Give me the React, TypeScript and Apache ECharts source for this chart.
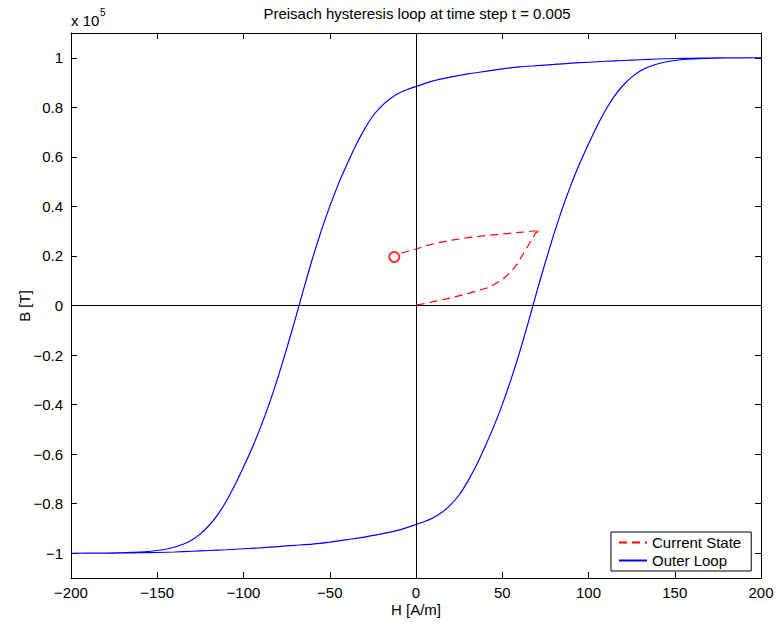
import React, { useEffect, useRef } from "react";
import * as echarts from "echarts";

const titleText = "Preisach hysteresis loop at time step t = 0.005";
const xTicks = [-200, -150, -100, -50, 0, 50, 100, 150, 200];
const yTicks = [-1, -0.8, -0.6, -0.4, -0.2, 0, 0.2, 0.4, 0.6, 0.8, 1];

// Outer loop, descending branch (H from 200 down to -200)
const descH = [200, 180, 170, 160, 150, 140, 130, 120, 110, 100, 90, 80, 70, 60, 50, 40, 30, 20, 10, 0, -5, -10, -15, -20, -25, -30, -35, -40, -45, -50, -55, -60, -65, -70, -75, -80, -85, -90, -95, -100, -105, -110, -115, -120, -125, -130, -135, -142, -150, -160, -180, -200];
const descB = [1.0, 1.0, 0.999, 0.998, 0.997, 0.995, 0.992, 0.989, 0.986, 0.982, 0.978, 0.973, 0.968, 0.963, 0.955, 0.945, 0.935, 0.922, 0.907, 0.884, 0.872, 0.857, 0.835, 0.805, 0.765, 0.71, 0.645, 0.57, 0.49, 0.4, 0.3, 0.19, 0.07, -0.055, -0.175, -0.29, -0.395, -0.49, -0.575, -0.652, -0.725, -0.79, -0.845, -0.888, -0.922, -0.947, -0.964, -0.979, -0.989, -0.995, -0.999, -1.0];

// Outer loop, ascending branch (H from -200 up to 200)
const ascH = [-200, -180, -170, -160, -150, -140, -130, -120, -110, -100, -90, -80, -70, -60, -50, -40, -30, -20, -10, 0, 5, 10, 15, 20, 25, 30, 35, 40, 45, 50, 55, 60, 65, 70, 75, 80, 85, 90, 95, 100, 105, 110, 115, 120, 125, 130, 135, 142, 150, 160, 180, 200];
const ascB = [-1.0, -1.0, -0.999, -0.998, -0.997, -0.995, -0.992, -0.989, -0.986, -0.982, -0.978, -0.973, -0.968, -0.963, -0.955, -0.945, -0.935, -0.922, -0.907, -0.884, -0.872, -0.857, -0.835, -0.805, -0.765, -0.71, -0.645, -0.57, -0.49, -0.4, -0.3, -0.19, -0.07, 0.055, 0.175, 0.29, 0.395, 0.49, 0.575, 0.652, 0.725, 0.79, 0.845, 0.888, 0.922, 0.947, 0.964, 0.979, 0.989, 0.995, 0.999, 1.0];

// Current state path
const curH = [0.4, 6, 12, 20, 31, 43, 50.6, 55, 58.4, 64.2, 69.4, 72, 60, 50.6, 40, 31.3, 20, 12, 5, 0.4, -4, -8.3, -12.6];
const curB = [0.002, 0.009, 0.019, 0.03, 0.05, 0.075, 0.108, 0.135, 0.165, 0.232, 0.293, 0.303, 0.295, 0.289, 0.282, 0.275, 0.263, 0.252, 0.24, 0.228, 0.22, 0.212, 0.196];

const currentPoint = [-12.6, 0.196];

const FONT = "Liberation Sans, Arial, Helvetica, sans-serif";
const FS = 15;

const fmt = (v: number) => String(Math.round(v * 1000) / 1000).replace("-", "\u2212");

export default function App() {
  const ref = useRef<HTMLDivElement>(null);
  useEffect(() => {
    if (!ref.current) return;
    const chart = echarts.init(ref.current, undefined, { renderer: "svg" });
    const outer: number[][] = [];
    descH.forEach((h, i) => outer.push([h, descB[i]]));
    ascH.forEach((h, i) => outer.push([h, ascB[i]]));
    const cur = curH.map((h, i) => [h, curB[i]]);

    const axisBase = {
      type: "value" as const,
      axisLine: { show: true, onZero: false, lineStyle: { color: "#000", width: 1 } },
      splitLine: { show: false },
    };

    chart.setOption({
      animation: false,
      backgroundColor: "#fff",
      textStyle: { fontFamily: FONT },
      grid: { left: 71, right: 17, top: 33, bottom: 47, containLabel: false },
      xAxis: [
        {
          ...axisBase,
          position: "bottom",
          min: xTicks[0],
          max: xTicks[xTicks.length - 1],
          interval: 50,
          axisTick: { show: true, inside: true, length: 6, lineStyle: { color: "#000" } },
          axisLabel: { show: true, color: "#000", fontSize: FS, margin: 7, fontFamily: FONT, formatter: (v: number) => fmt(v) },
        },
        {
          ...axisBase,
          position: "top",
          min: xTicks[0],
          max: xTicks[xTicks.length - 1],
          interval: 50,
          axisTick: { show: true, inside: true, length: 6, lineStyle: { color: "#000" } },
          axisLabel: { show: false },
        },
      ],
      yAxis: [
        {
          ...axisBase,
          position: "left",
          min: -1.1,
          max: 1.1,
          axisTick: { show: true, inside: true, length: 6, customValues: yTicks, lineStyle: { color: "#000" } },
          axisLabel: { show: true, color: "#000", fontSize: FS, margin: 8, fontFamily: FONT, customValues: yTicks, formatter: (v: number) => fmt(v) },
        },
        {
          ...axisBase,
          position: "right",
          min: -1.1,
          max: 1.1,
          axisTick: { show: true, inside: true, length: 6, customValues: yTicks, lineStyle: { color: "#000" } },
          axisLabel: { show: false, customValues: yTicks },
        },
      ],
      legend: {
        data: ["Current State", "Outer Loop"],
        orient: "vertical",
        left: 611,
        top: 532,
        width: 142,
        itemWidth: 28,
        itemHeight: 14,
        itemGap: 3,
        padding: [3, 10, 3, 7],
        backgroundColor: "#fff",
        borderColor: "#000",
        borderWidth: 1,
        borderRadius: 0,
        itemStyle: { opacity: 0 },
        textStyle: { color: "#000", fontSize: FS, fontFamily: FONT },
        selectedMode: false,
      },
      graphic: [
        {
          type: "text",
          x: 417,
          y: 6,
          style: { text: titleText, fill: "#000", font: `${FS}px ${FONT}`, align: "center" },
        },
        {
          type: "text",
          x: 71,
          y: 13,
          style: { text: "x 10", fill: "#000", font: `${FS}px ${FONT}` },
        },
        {
          type: "text",
          x: 100,
          y: 7,
          style: { text: "5", fill: "#000", font: `10px ${FONT}` },
        },
        {
          type: "text",
          x: 24,
          y: 306,
          rotation: Math.PI / 2,
          style: { text: "B [T]", fill: "#000", font: `${FS}px ${FONT}`, align: "center", verticalAlign: "middle" },
        },
        {
          type: "text",
          x: 416,
          y: 609,
          style: { text: "H [A/m]", fill: "#000", font: `${FS}px ${FONT}`, align: "center", verticalAlign: "middle" },
        },
      ],
      series: [
        {
          name: "Outer Loop",
          type: "line",
          data: outer,
          symbol: "none",
          smooth: 0.2,
          lineStyle: { color: "#0000ff", width: 1.2 },
          itemStyle: { color: "#0000ff" },
          z: 2,
          markLine: {
            silent: true,
            symbol: "none",
            label: { show: false },
            lineStyle: { color: "#000", width: 1, type: "solid" },
            data: [{ xAxis: 0 }, { yAxis: 0 }],
          },
        },
        {
          name: "Current State",
          type: "line",
          data: cur,
          symbol: "none",
          lineStyle: { color: "#ff0000", width: 1.2, type: [8, 5] },
          itemStyle: { color: "#ff0000" },
          z: 3,
        },
        {
          name: "point",
          type: "scatter",
          data: [currentPoint],
          symbol: "emptyCircle",
          symbolSize: 10,
          itemStyle: { color: "#ff0000", borderColor: "#ff0000", borderWidth: 1.2 },
          z: 4,
        },
      ],
    });
    return () => chart.dispose();
  }, []);
  return <div ref={ref} style={{ position: "fixed", left: 0, top: 0, width: 778, height: 625 }} />;
}
